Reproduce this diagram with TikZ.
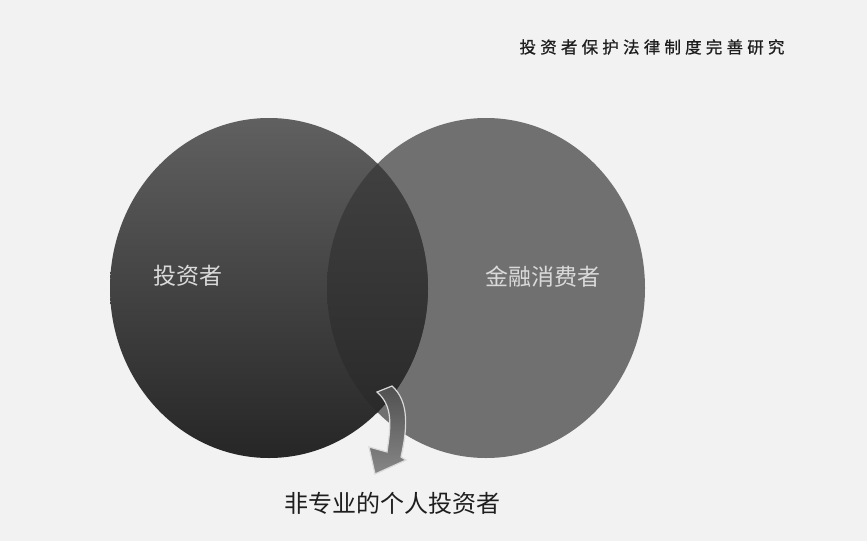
\documentclass[tikz,border=0pt]{standalone}
\usepackage{fontspec}
\newfontfamily\cjk{Noto Sans CJK SC}
\newfontfamily\cjkb[FakeBold=0.8]{Noto Sans CJK SC}
\usetikzlibrary{shapes.geometric}
\definecolor{paper}{RGB}{242,242,242}
\definecolor{ltop}{RGB}{96,96,96}
\definecolor{lbot}{RGB}{38,38,38}
\definecolor{rfill}{RGB}{112,112,112}
\definecolor{itop}{RGB}{68,68,68}
\definecolor{ibot}{RGB}{38,38,38}
\definecolor{labelc}{RGB}{218,218,218}
\definecolor{textc}{RGB}{30,30,30}
\definecolor{atop}{RGB}{80,80,80}
\definecolor{abot}{RGB}{135,135,135}
\tikzset{
  venn/.style={ellipse, minimum width=318pt, minimum height=340pt, inner sep=0pt},
  inlabel/.style={text=labelc, font=\cjk\fontsize{23}{26}\selectfont, inner sep=0pt},
  outlabel/.style={text=textc, font=\cjk\fontsize{24}{26}\selectfont, inner sep=0pt},
  header/.style={text=textc, font=\cjkb\fontsize{16.5}{18}\selectfont, inner sep=0pt},
  blockarrow/.style={top color=atop, bottom color=abot, draw=labelc, line width=1.2pt}
}
\newcommand{\gs}{\hspace{4.2pt}}
\begin{document}
\begin{tikzpicture}[x=1pt,y=-1pt]
\fill[paper] (0,0) rectangle (867,541);
\useasboundingbox (0,0) rectangle (867,541);
% circles
\node[venn, fill=rfill] (R) at (486,288) {};
\node[venn, top color=ltop, bottom color=lbot] (L) at (269,288) {};
\begin{scope}
  \clip (L.center) ellipse [x radius=159pt, y radius=170pt];
  \shade[top color=itop, bottom color=ibot] (R.center) ellipse [x radius=159pt, y radius=170pt];
\end{scope}
% labels
\node[inlabel] (inv) at (188,276) {投资者};
\node[inlabel] (fc) at (543,277) {金融消费者};
\node[header] (head) at (652,47) {投\gs 资\gs 者\gs 保\gs 护\gs 法\gs 律\gs 制\gs 度\gs 完\gs 善\gs 研\gs 究};
\node[outlabel] (np) at (392,503) {非专业的个人投资者};
% curved block arrow
\shade[blockarrow]
  (377,392) -- (392,386) .. controls (410,402) and (407,430) .. (401,457)
  -- (406,460) -- (375,474) -- (369,447) -- (387,452)
  .. controls (391,425) and (393,406) .. (377,392) -- cycle;
\end{tikzpicture}
\end{document}
